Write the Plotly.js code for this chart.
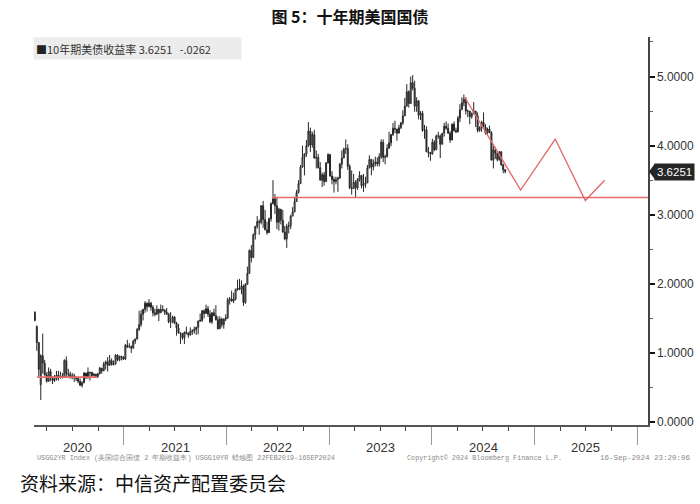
<!DOCTYPE html>
<html>
<head>
<meta charset="utf-8">
<script src="https://cdn.plot.ly/plotly-3.0.1.min.js"></script>
<style>html,body{margin:0;padding:0;background:#fff;}#chart{width:700px;height:504px;}</style>
</head>
<body>
<div id="chart"></div>
<script>
// ---- Weekly candles of the US 10Y Treasury yield (%), weeks from 2020-02-19 to 2024-09-18 ----
const firstWeek = '2020-02-19';

const open = [
  // 2020
  1.59,1.38,1.15,0.54,0.96,0.85,0.68,0.59,0.73,0.65,0.60,0.62,0.68,0.64,0.66,0.65,0.89,0.70,0.69,0.64,0.67,0.64,0.63,0.59,0.53,0.57,0.71,0.64,0.71,0.72,0.67,0.69,0.66,0.70,0.78,0.74,0.84,0.87,0.82,0.89,0.83,0.84,0.97,0.90,0.95,0.94,
  // 2021
  0.91,1.11,1.09,1.09,1.07,1.17,1.20,1.34,1.41,1.56,1.63,1.72,1.67,1.72,1.66,1.58,1.56,1.63,1.58,1.63,1.62,1.59,1.56,1.45,1.45,1.52,1.43,1.36,1.29,1.28,1.22,1.30,1.28,1.26,1.31,1.32,1.34,1.37,1.46,1.47,1.61,1.57,1.64,1.56,1.45,1.58,1.54,1.48,1.35,1.49,1.41,1.49,
  // 2022
  1.51,1.77,1.78,1.75,1.78,1.92,1.94,1.92,1.97,1.73,1.99,2.15,2.48,2.38,2.71,2.83,2.90,2.89,3.13,2.93,2.78,2.74,2.94,3.16,3.23,3.13,2.89,3.08,2.92,2.75,2.65,2.83,2.84,2.98,3.04,3.19,3.32,3.45,3.69,3.83,3.88,4.00,4.21,4.01,4.16,3.82,3.83,3.68,3.50,3.58,3.48,3.75,
  // 2023
  3.87,3.56,3.51,3.48,3.51,3.53,3.73,3.82,3.95,3.96,3.70,3.39,3.38,3.47,3.39,3.51,3.57,3.42,3.44,3.46,3.68,3.80,3.69,3.74,3.76,3.74,3.84,4.05,3.83,3.84,3.96,4.04,4.16,4.25,4.24,4.18,4.26,4.33,4.43,4.57,4.78,4.61,4.91,4.83,4.57,4.65,4.44,4.47,4.22,4.23,3.91,3.90,
  // 2024
  3.88,4.05,3.94,4.14,4.14,4.02,4.18,4.28,4.25,4.18,4.08,4.31,4.22,4.20,4.40,4.52,4.62,4.67,4.50,4.50,4.42,4.46,4.50,4.43,4.22,4.26,4.34,4.27,4.18,4.24,4.19,3.79,3.94,3.89,3.80,3.91,3.72,3.6513
];
const high = [
  // 2020
  1.60,1.40,1.16,0.98,1.28,0.90,0.72,0.79,0.77,0.66,0.68,0.74,0.74,0.73,0.71,0.91,0.95,0.77,0.73,0.71,0.70,0.66,0.64,0.63,0.59,0.72,0.71,0.79,0.72,0.72,0.71,0.70,0.71,0.80,0.78,0.87,0.89,0.94,0.97,0.92,0.89,0.98,0.98,0.96,0.96,0.95,
  // 2021
  1.13,1.19,1.14,1.11,1.19,1.21,1.36,1.61,1.62,1.64,1.75,1.73,1.78,1.74,1.69,1.64,1.69,1.64,1.70,1.69,1.63,1.65,1.58,1.59,1.54,1.53,1.45,1.42,1.30,1.29,1.31,1.38,1.30,1.37,1.34,1.38,1.38,1.47,1.57,1.62,1.63,1.70,1.68,1.62,1.59,1.64,1.69,1.53,1.53,1.51,1.50,1.56,
  // 2022
  1.80,1.81,1.90,1.87,1.93,2.06,2.07,2.05,1.99,2.01,2.25,2.50,2.56,2.73,2.84,2.98,2.93,3.14,3.20,3.07,2.90,2.96,3.18,3.50,3.30,3.25,3.10,3.08,3.07,2.84,2.87,2.90,3.00,3.11,3.26,3.36,3.50,3.72,4.00,3.89,4.08,4.34,4.26,4.20,4.23,3.93,3.88,3.76,3.61,3.62,3.76,3.89,
  // 2023
  3.88,3.63,3.55,3.55,3.55,3.75,3.93,3.97,4.09,4.02,3.73,3.64,3.59,3.50,3.53,3.63,3.57,3.59,3.55,3.72,3.86,3.81,3.80,3.84,3.83,3.89,4.09,4.09,3.87,4.02,4.20,4.17,4.33,4.36,4.24,4.30,4.34,4.51,4.69,4.89,4.80,5.00,5.02,4.94,4.70,4.65,4.50,4.50,4.30,4.28,3.98,3.91,
  // 2024
  4.10,4.08,4.16,4.20,4.16,4.18,4.33,4.35,4.32,4.21,4.32,4.35,4.26,4.43,4.60,4.70,4.74,4.70,4.52,4.50,4.48,4.63,4.50,4.48,4.28,4.36,4.48,4.31,4.26,4.29,4.21,4.02,3.98,3.90,3.92,3.92,3.74,3.66
];
const low = [
  // 2020
  1.46,1.03,0.66,0.32,0.70,0.67,0.57,0.58,0.59,0.55,0.58,0.60,0.60,0.63,0.63,0.64,0.65,0.65,0.63,0.62,0.58,0.59,0.56,0.53,0.50,0.56,0.62,0.63,0.60,0.66,0.66,0.64,0.64,0.69,0.70,0.74,0.76,0.73,0.82,0.82,0.82,0.83,0.88,0.88,0.89,0.90,
  // 2021
  0.90,1.07,1.07,1.00,1.06,1.13,1.20,1.32,1.38,1.47,1.58,1.60,1.66,1.61,1.53,1.53,1.55,1.46,1.58,1.60,1.55,1.55,1.43,1.36,1.43,1.42,1.25,1.28,1.13,1.19,1.13,1.27,1.22,1.25,1.26,1.28,1.26,1.27,1.45,1.45,1.50,1.57,1.52,1.43,1.42,1.53,1.47,1.34,1.35,1.37,1.35,1.46,
  // 2022
  1.49,1.70,1.74,1.72,1.76,1.90,1.91,1.85,1.68,1.71,1.99,2.15,2.31,2.38,2.64,2.80,2.71,2.86,2.81,2.78,2.71,2.74,2.90,3.15,3.01,2.79,2.77,2.86,2.74,2.63,2.52,2.73,2.79,2.98,3.04,3.19,3.31,3.45,3.68,3.57,3.84,3.98,3.91,3.97,3.81,3.67,3.67,3.50,3.40,3.42,3.48,3.74,
  // 2023
  3.55,3.44,3.32,3.44,3.33,3.52,3.67,3.82,3.88,3.65,3.37,3.29,3.37,3.25,3.36,3.48,3.38,3.33,3.39,3.46,3.67,3.57,3.64,3.70,3.70,3.70,3.81,3.76,3.73,3.83,3.96,3.99,4.14,4.18,4.07,4.18,4.24,4.30,4.43,4.57,4.55,4.61,4.80,4.49,4.49,4.38,4.37,4.20,4.10,3.91,3.83,3.78,
  // 2024
  3.87,3.92,3.94,4.10,3.82,4.02,4.13,4.23,4.17,4.04,4.08,4.20,4.18,4.19,4.34,4.52,4.57,4.45,4.41,4.31,4.39,4.46,4.27,4.19,4.20,4.20,4.27,4.16,4.15,4.18,3.79,3.67,3.81,3.77,3.78,3.71,3.60,3.60
];
const close = [
  // 2020
  1.47,1.15,0.76,0.96,0.85,0.68,0.59,0.73,0.65,0.60,0.62,0.68,0.64,0.66,0.65,0.89,0.70,0.69,0.64,0.67,0.64,0.63,0.59,0.53,0.57,0.71,0.64,0.72,0.72,0.67,0.69,0.66,0.70,0.78,0.74,0.84,0.87,0.82,0.89,0.83,0.84,0.97,0.90,0.95,0.94,0.91,
  // 2021
  1.11,1.09,1.09,1.07,1.17,1.20,1.34,1.41,1.56,1.63,1.72,1.67,1.72,1.66,1.58,1.56,1.63,1.58,1.63,1.62,1.59,1.56,1.45,1.45,1.52,1.43,1.36,1.29,1.28,1.22,1.30,1.28,1.26,1.31,1.32,1.34,1.37,1.46,1.47,1.61,1.57,1.64,1.56,1.45,1.58,1.54,1.48,1.35,1.49,1.41,1.49,1.51,
  // 2022
  1.77,1.78,1.75,1.78,1.92,1.94,1.92,1.97,1.73,1.99,2.15,2.48,2.38,2.71,2.83,2.90,2.89,3.13,2.93,2.78,2.74,2.94,3.16,3.23,3.13,2.89,3.08,2.92,2.75,2.65,2.83,2.84,2.98,3.04,3.19,3.32,3.45,3.69,3.83,3.88,4.00,4.21,4.01,4.16,3.82,3.83,3.68,3.50,3.58,3.48,3.75,3.87,
  // 2023
  3.56,3.51,3.48,3.51,3.53,3.73,3.82,3.95,3.96,3.70,3.39,3.38,3.47,3.39,3.51,3.57,3.42,3.44,3.46,3.68,3.80,3.69,3.74,3.76,3.74,3.84,4.05,3.83,3.84,3.96,4.04,4.16,4.25,4.24,4.18,4.26,4.33,4.43,4.57,4.78,4.61,4.91,4.83,4.57,4.65,4.44,4.47,4.22,4.23,3.91,3.90,3.88,
  // 2024
  4.05,3.94,4.14,4.14,4.02,4.18,4.28,4.25,4.18,4.08,4.31,4.22,4.20,4.40,4.52,4.62,4.67,4.50,4.50,4.42,4.46,4.50,4.43,4.22,4.26,4.34,4.27,4.18,4.24,4.19,3.79,3.94,3.89,3.80,3.91,3.72,3.6513,3.6251
];

// ---- Hand-drawn annotation lines (red) ----
const lowBandX = ['2020-02-27','2020-09-27'];
const lowBandY = [0.65, 0.65];
const supportX = ['2022-06-11','2026-02-08'];
const supportY = [3.25, 3.25];
const zigzagX = ['2024-04-27','2024-11-12','2025-03-15','2025-06-30','2025-09-07'];
const zigzagY = [4.70, 3.357, 4.095, 3.205, 3.50];

// ---- Labels ----
const lastValue = 3.6251;
const lastChange = '-.0262';
const seriesName = '10年期美债收益率';
const yearLabels = ['2020','2021','2022','2023','2024','2025'];
const yearLabelX = ['2020-07-18','2021-07-02','2022-07-02','2023-07-02','2024-07-02','2025-07-02'];

// weekly dates
const dates = [];
{
  const d0 = new Date(firstWeek + 'T00:00:00Z');
  for (let i = 0; i < close.length; i++) {
    const d = new Date(d0.getTime() + i * 7 * 86400000);
    dates.push(d.toISOString().slice(0, 10));
  }
}

const red = '#e36b6b';
const traces = [
  {
    type: 'candlestick', x: dates, open: open, high: high, low: low, close: close,
    increasing: {line: {color: '#262626', width: 1}, fillcolor: '#a8a8a8'},
    decreasing: {line: {color: '#262626', width: 1}, fillcolor: '#353535'},
    whiskerwidth: 0, hoverinfo: 'skip', showlegend: false
  },
  {type: 'scatter', mode: 'lines', x: lowBandX, y: lowBandY, line: {color: red, width: 1.6}, hoverinfo: 'skip', showlegend: false},
  {type: 'scatter', mode: 'lines', x: supportX, y: supportY, line: {color: red, width: 1.4}, hoverinfo: 'skip', showlegend: false},
  {type: 'scatter', mode: 'lines', x: zigzagX, y: zigzagY, line: {color: red, width: 1.4}, hoverinfo: 'skip', showlegend: false}
];

const annotations = [];
yearLabels.forEach((t, i) => annotations.push({
  x: yearLabelX[i], xref: 'x', y: -0.057, yref: 'paper', text: t, showarrow: false,
  xanchor: 'center', yanchor: 'middle',
  font: {family: 'Liberation Sans Narrow, Arial Narrow, Liberation Sans, Arial', size: 13, color: '#333'}
}));
annotations.push({
  x: -0.002, xref: 'paper', y: 1, yref: 'paper', xanchor: 'left', yanchor: 'top', showarrow: false,
  text: '<span style="color:#222">■</span>' + seriesName + '\u00a0' + lastValue.toFixed(4) + '\u00a0\u00a0\u00a0' + lastChange,
  bgcolor: '#ececec', width: 203, height: 17, align: 'left', borderpad: 2,
  font: {family: 'Noto Sans CJK SC, sans-serif', size: 11, color: '#333'}
});
annotations.push({
  x: 1, xref: 'paper', xshift: 6, y: lastValue, yref: 'y', xanchor: 'left', yanchor: 'middle', showarrow: false,
  text: lastValue.toFixed(4), bgcolor: '#262626', borderpad: 2,
  font: {family: 'Liberation Sans, Arial', size: 11.5, color: '#ffffff'}
});
const footFont = {family: 'Liberation Mono, DejaVu Sans Mono, monospace', size: 6.8, color: '#8a8a8a'};
annotations.push({x: 0.0016, xref: 'paper', y: -0.085, yref: 'paper', xanchor: 'left', yanchor: 'middle', showarrow: false,
  text: 'USGG2YR Index (美国综合国债 2 年期收益率) USGG10YR 蜡烛图 22FEB2019-16SEP2024', font: footFont});
annotations.push({x: 0.604, xref: 'paper', y: -0.085, yref: 'paper', xanchor: 'left', yanchor: 'middle', showarrow: false,
  text: 'Copyright© 2024 Bloomberg Finance L.P.', font: footFont});
annotations.push({x: 1.073, xref: 'paper', y: -0.085, yref: 'paper', xanchor: 'right', yanchor: 'middle', showarrow: false,
  text: '16-Sep-2024 23:20:06', font: Object.assign({}, footFont, {size: 7.5})});
annotations.push({x: -0.026, xref: 'paper', y: -0.149, yref: 'paper', xanchor: 'left', yanchor: 'middle', showarrow: false,
  text: '资料来源：中信资产配置委员会', font: {family: 'Noto Sans CJK SC, sans-serif', size: 19, color: '#111'}});

const layout = {
  width: 700, height: 504,
  margin: {l: 34, r: 52, t: 37, b: 79, pad: 0},
  paper_bgcolor: '#ffffff', plot_bgcolor: '#ffffff',
  showlegend: false,
  title: {
    text: '<b>图 5：十年期美国国债</b>', x: 0.5, xanchor: 'center', y: 0.966, yanchor: 'middle',
    font: {family: 'Noto Sans CJK SC, sans-serif', size: 16, color: '#111'}
  },
  xaxis: {
    type: 'date', range: ['2020-02-16', '2026-02-08'],
    showline: true, linecolor: '#555', linewidth: 1.5,
    ticks: 'outside', tickmode: 'linear', tick0: '2020-01-01', dtick: 'M12',
    ticklen: 18, tickcolor: '#9a9a9a', tickwidth: 1,
    showticklabels: false, showgrid: false, zeroline: false,
    rangeslider: {visible: false}, fixedrange: true,
    minor: {ticks: 'outside', ticklen: 4, tickcolor: '#444', tickwidth: 1, tick0: '2020-01-01', dtick: 'M3', showgrid: false}
  },
  yaxis: {
    side: 'right', range: [-0.043, 5.572],
    showline: true, linecolor: '#444', linewidth: 1.5,
    ticks: 'outside', ticklen: 5, tickwidth: 2, tickcolor: '#111',
    tickmode: 'linear', tick0: 0, dtick: 1, tickformat: '.4f',
    tickfont: {family: 'Liberation Sans, Arial', size: 12, color: '#333'},
    showgrid: false, zeroline: false, fixedrange: true,
    minor: {ticks: 'outside', ticklen: 3, tickcolor: '#666', tickwidth: 1, dtick: 0.5, showgrid: false}
  },
  shapes: [{
    type: 'path', xref: 'paper', yref: 'y', xsizemode: 'pixel', ysizemode: 'pixel',
    xanchor: 1, yanchor: lastValue,
    path: 'M 1 0 L 7 -8 L 7 8 Z', fillcolor: '#262626', line: {width: 0}
  }],
  annotations: annotations
};

Plotly.newPlot('chart', traces, layout, {staticPlot: true, displayModeBar: false});
</script>
</body>
</html>
